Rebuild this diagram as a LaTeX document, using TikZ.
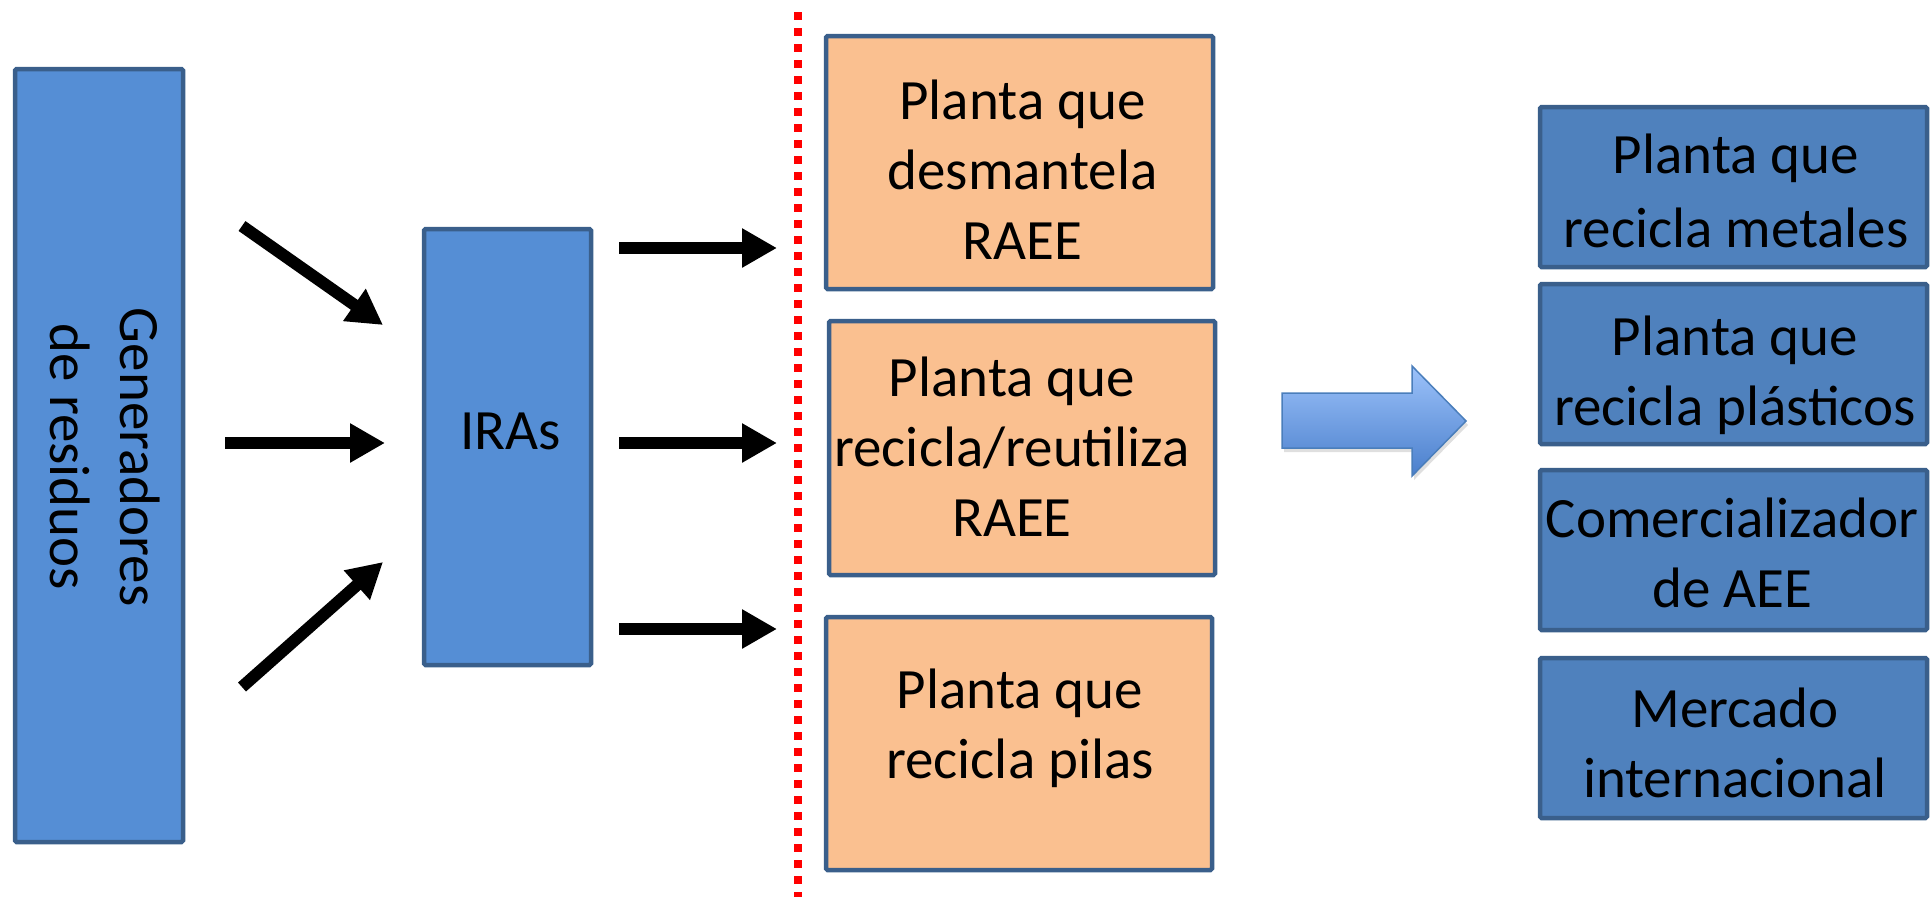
\documentclass[tikz,border=0pt]{standalone}
\usepackage{fontspec}
\setmainfont{Carlito}
\usetikzlibrary{arrows.meta,shadows}
\definecolor{lblue}{HTML}{558ED5}
\definecolor{dblue}{HTML}{4F81BD}
\definecolor{edgeblue}{HTML}{3A5F8B}
\definecolor{orangefill}{HTML}{FAC090}
\definecolor{arrtop}{HTML}{9CC2FA}
\definecolor{arrbot}{HTML}{4A7FCC}
\definecolor{arredge}{HTML}{4A7EBB}
\tikzset{
  box/.style={rectangle, draw=edgeblue, line width=4.5pt, rounded corners=1.5pt, inner sep=0pt},
  lbox/.style={box, fill=lblue},
  obox/.style={box, fill=orangefill},
  rbox/.style={box, fill=dblue},
  txt/.style={inner sep=0pt, align=center, font=\fontsize{57}{70}\selectfont},
  blackarrow/.style={line width=12pt, -{Triangle[length=35pt,width=37pt]}},
  reddots/.style={red, line width=7.5pt, dash pattern=on 7.5pt off 8.5pt},
  bigarrow/.style={draw=arredge, line width=1.5pt, top color=arrtop, bottom color=arrbot, line join=miter, drop shadow={opacity=0.25, shadow xshift=2pt, shadow yshift=-4pt}}
}
\begin{document}
\begin{tikzpicture}[x=1pt,y=-1pt]
\useasboundingbox (0,0) rectangle (1932,897);
% left boxes
\node[lbox, minimum width=168pt, minimum height=773pt] (gen) at (99,455.5) {};
\node[txt, rotate=-90] (gent) at (105.5,457) {Generadores\\de residuos};
\node[lbox, minimum width=167pt, minimum height=436pt] (ira) at (507.5,447) {};
\node[txt] (irat) at (510.5,431) {IRAs};
% arrows into IRAs
\coordinate (a1s) at (242,226); \coordinate (a1e) at (383,325);
\coordinate (a2s) at (225,443); \coordinate (a2e) at (385,443);
\coordinate (a3s) at (242,687); \coordinate (a3e) at (383,562);
\draw[blackarrow] (a1s) -- (a1e);
\draw[blackarrow] (a2s) -- (a2e);
\draw[blackarrow] (a3s) -- (a3e);
% arrows out of IRAs
\coordinate (b1s) at (619,248); \coordinate (b1e) at (777,248);
\coordinate (b2s) at (619,443); \coordinate (b2e) at (777,443);
\coordinate (b3s) at (619,629); \coordinate (b3e) at (777,629);
\draw[blackarrow] (b1s) -- (b1e);
\draw[blackarrow] (b2s) -- (b2e);
\draw[blackarrow] (b3s) -- (b3e);
% red dotted line
\coordinate (d1) at (798,12); \coordinate (d2) at (798,897);
\draw[reddots] (d1) -- (d2);
% orange boxes
\node[obox, minimum width=387pt, minimum height=253pt] (o1) at (1019.5,162.5) {};
\node[txt] (o1t) at (1022.5,169.5) {Planta que\\desmantela\\RAEE};
\node[obox, minimum width=386pt, minimum height=254pt] (o2) at (1022,448) {};
\node[txt] (o2t) at (1012,447) {Planta que\\recicla/reutiliza\\RAEE};
\node[obox, minimum width=386pt, minimum height=253pt] (o3) at (1019,743.5) {};
\node[txt] (o3t) at (1020,728.5) {Planta que\\recicla pilas};
% big arrow
\coordinate (g1) at (1282,393); \coordinate (g2) at (1412,393); \coordinate (g3) at (1412,366);
\coordinate (g4) at (1466,421); \coordinate (g5) at (1412,476); \coordinate (g6) at (1412,448);
\coordinate (g7) at (1282,448);
\path[bigarrow] (g1) -- (g2) -- (g3) -- (g4) -- (g5) -- (g6) -- (g7) -- cycle;
% right boxes
\node[rbox, minimum width=387pt, minimum height=160pt] (r1) at (1733.5,187) {};
\node[txt, font=\fontsize{57}{74}\selectfont] (r1t) at (1736,190.5) {Planta que\\recicla metales};
\node[rbox, minimum width=387pt, minimum height=160pt] (r2) at (1733.5,364) {};
\node[txt] (r2t) at (1735,375) {Planta que\\recicla plásticos};
\node[rbox, minimum width=387pt, minimum height=160pt] (r3) at (1733.5,550) {};
\node[txt] (r3t) at (1732,552.5) {Comercializador\\de AEE};
\node[rbox, minimum width=387pt, minimum height=160pt] (r4) at (1733.5,738) {};
\node[txt] (r4t) at (1735,742.5) {Mercado\\internacional};
\end{tikzpicture}
\end{document}
